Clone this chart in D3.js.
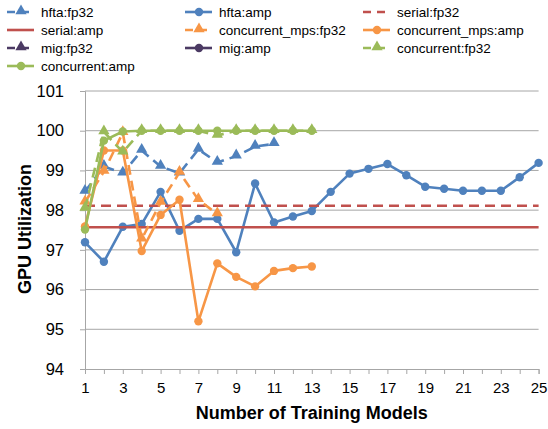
<!DOCTYPE html>
<html>
<head>
<meta charset="utf-8">
<script src="https://d3js.org/d3.v7.min.js"></script>
<style>
  body { margin: 0; background: #fff; }
  text { font-family: "Liberation Sans", Arial, sans-serif; fill: #000; }
</style>
</head>
<body>
<div id="container"></div>
<script>
// ---- data ----
var models = d3.range(1, 26);

var hftaFp32 = [98.47, 99.1, 98.93, 99.5, 99.1, 98.93, 99.53, 99.2, 99.36, 99.6, 99.67];
var hftaAmp = [97.19, 96.7, 97.58, 97.65, 98.46, 97.48, 97.78, 97.78, 96.94, 98.67, 97.69, 97.84,
               97.98, 98.46, 98.92, 99.04, 99.16, 98.88, 98.59, 98.54, 98.49, 98.49, 98.49, 98.83, 99.19];
var serialFp32 = d3.range(25).map(function() { return 98.11; });
var serialAmp = d3.range(25).map(function() { return 97.57; });
var mpsFp32 = [98.2, 98.97, 99.95, 97.27, 98.19, 98.95, 98.26, 97.9];
var mpsAmp = [97.59, 99.5, 99.5, 96.97, 97.88, 98.26, 95.2, 96.66, 96.32, 96.08, 96.47, 96.54, 96.58];
var migFp32 = [];
var migAmp = [];
var concFp32 = [98.04, 99.97, 99.46, 100, 100, 100, 100, 99.88, 100, 100, 100, 100, 100];
var concAmp = [97.51, 99.75, 99.98, 100, 100, 100, 100, 100, 100, 100, 100, 100, 100];

var yTicks = [94, 95, 96, 97, 98, 99, 100, 101];
var xTickLabels = [1, 3, 5, 7, 9, 11, 13, 15, 17, 19, 21, 23, 25];

var blue = "#4f81bd", red = "#c0504d", orange = "#f79646", purple = "#4b3a63", green = "#9bbb59";

var series = [
  { name: "hfta:fp32", values: hftaFp32, color: blue, dash: true, marker: "tri" },
  { name: "hfta:amp", values: hftaAmp, color: blue, dash: false, marker: "circle" },
  { name: "serial:fp32", values: serialFp32, color: red, dash: true, marker: null },
  { name: "serial:amp", values: serialAmp, color: red, dash: false, marker: null },
  { name: "concurrent_mps:fp32", values: mpsFp32, color: orange, dash: true, marker: "tri" },
  { name: "concurrent_mps:amp", values: mpsAmp, color: orange, dash: false, marker: "circle" },
  { name: "mig:fp32", values: migFp32, color: purple, dash: true, marker: "tri" },
  { name: "mig:amp", values: migAmp, color: purple, dash: false, marker: "circle" },
  { name: "concurrent:fp32", values: concFp32, color: green, dash: true, marker: "tri" },
  { name: "concurrent:amp", values: concAmp, color: green, dash: false, marker: "circle" }
];

// ---- layout ----
var width = 548, height = 429;
var plot = { left: 85, right: 538.6, top: 91, bottom: 369 };

var svg = d3.select("#container").append("svg")
  .attr("width", width).attr("height", height);

var x = d3.scaleLinear().domain([1, 25]).range([plot.left, plot.right]);
var y = d3.scaleLinear().domain([94, 101]).range([plot.bottom, plot.top]);

// gridlines
svg.append("g").selectAll("line").data(yTicks.slice(1)).enter().append("line")
  .attr("x1", plot.left).attr("x2", plot.right)
  .attr("y1", function(d) { return y(d); }).attr("y2", function(d) { return y(d); })
  .attr("stroke", "#a6a6a6").attr("stroke-width", 1);

// y axis
var yAxis = d3.axisLeft(y).tickValues(yTicks).tickSize(5).tickPadding(5).tickFormat(d3.format("d"));
var gy = svg.append("g").attr("transform", "translate(" + plot.left + ",0)").call(yAxis);
gy.select(".domain").attr("stroke", "#a6a6a6");
gy.selectAll(".tick line").attr("stroke", "#a6a6a6");
gy.selectAll("text").style("font-size", "16.5px").attr("dx", "-11");

// x axis
var xAxis = d3.axisBottom(x).tickValues(models).tickSize(5).tickPadding(8)
  .tickFormat(function(d) { return xTickLabels.indexOf(d) >= 0 ? d : ""; });
var gx = svg.append("g").attr("transform", "translate(0," + plot.bottom + ")").call(xAxis);
gx.select(".domain").attr("stroke", "#a6a6a6");
gx.selectAll(".tick line").attr("stroke", "#a6a6a6");
gx.selectAll("text").style("font-size", "15px");

// axis titles
svg.append("text")
  .attr("x", (plot.left + plot.right) / 2).attr("y", 419)
  .attr("text-anchor", "middle")
  .style("font-size", "18px").style("font-weight", "bold")
  .text("Number of Training Models");

svg.append("text")
  .attr("transform", "translate(31," + ((plot.top + plot.bottom) / 2 - 1) + ") rotate(-90)")
  .attr("text-anchor", "middle")
  .style("font-size", "18px").style("font-weight", "bold")
  .text("GPU Utilization");

// lines and markers
var line = d3.line()
  .x(function(d, i) { return x(i + 1); })
  .y(function(d) { return y(d); });

var tri = d3.symbol().type(d3.symbolTriangle).size(55);

function drawMarker(g, kind, color) {
  if (kind === "circle") {
    g.append("circle").attr("r", 4.2).attr("fill", color);
  } else if (kind === "tri") {
    g.append("path").attr("d", tri()).attr("fill", color).attr("transform", "translate(0,-1)");
  }
}

series.forEach(function(s) {
  if (!s.values.length) return;
  var g = svg.append("g");
  g.append("path").datum(s.values)
    .attr("d", line)
    .attr("fill", "none")
    .attr("stroke", s.color)
    .attr("stroke-width", 2.6)
    .attr("stroke-dasharray", s.dash ? "10,6" : null)
    .attr("stroke-linejoin", "round");
  if (s.marker) {
    s.values.forEach(function(v, i) {
      var m = g.append("g").attr("transform", "translate(" + x(i + 1) + "," + y(v) + ")");
      drawMarker(m, s.marker, s.color);
    });
  }
});

// legend
var legCols = [7, 185, 363];
var legRows = [12, 30, 48, 66];
series.forEach(function(s, i) {
  var col = i % 3, row = Math.floor(i / 3);
  var lx = legCols[col], ly = legRows[row];
  var g = svg.append("g").attr("transform", "translate(" + lx + "," + ly + ")");
  g.append("line").attr("x1", 0).attr("x2", 27).attr("y1", 0).attr("y2", 0)
    .attr("stroke", s.color).attr("stroke-width", 2.6)
    .attr("stroke-dasharray", s.dash ? "8,6" : null);
  var m = g.append("g").attr("transform", "translate(14,0)");
  drawMarker(m, s.marker, s.color);
  g.append("text").attr("x", 34).attr("y", 0).attr("dy", "0.35em")
    .style("font-size", "13.5px").text(s.name);
});
</script>
</body>
</html>
